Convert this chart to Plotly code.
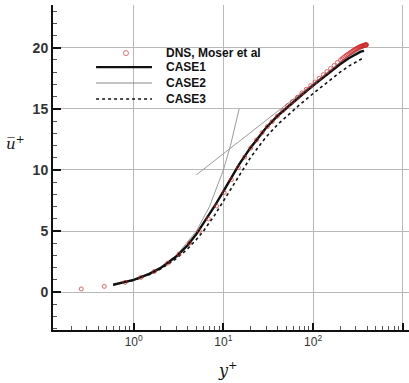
import plotly.graph_objects as go

# ---------------- data ----------------
dns_y = [0.26, 0.47, 0.8, 1.2, 1.7, 2.4, 3.2, 4.2, 5.4, 6.8, 8.4, 10.2, 12.3, 14.7,
         17.3, 20.2, 23.4, 27, 31, 35, 40, 46, 52, 59, 67, 75, 84, 94, 105, 117, 130,
         143, 157, 172, 187, 203, 211, 219, 227, 235, 243, 251, 259, 267, 275, 283,
         290, 298, 305, 313, 320, 327, 333, 340, 346, 352, 358, 363, 368, 372, 376,
         380, 383, 386, 388, 390, 392, 393]
dns_u = [0.26, 0.47, 0.8, 1.2, 1.69, 2.37, 3.12, 4.02, 5.0, 6.0, 7.05, 8.15, 9.2, 10.2,
         11.05, 11.8, 12.45, 13.05, 13.55, 13.95, 14.4, 14.85, 15.25, 15.6, 15.95, 16.3,
         16.6, 16.9, 17.2, 17.5, 17.8, 18.05, 18.3, 18.55, 18.8, 19.0, 19.1, 19.2,
         19.29, 19.38, 19.45, 19.52, 19.59, 19.66, 19.72, 19.78, 19.83, 19.88, 19.93,
         19.97, 20.01, 20.05, 20.08, 20.1, 20.12, 20.15, 20.17, 20.18, 20.19, 20.2,
         20.21, 20.22, 20.22, 20.23, 20.23, 20.24, 20.24, 20.24]

case_y = [0.59, 0.8, 1, 1.5, 2, 3, 4, 5, 6, 7, 8, 10, 12, 15, 20, 25, 30, 40, 50, 70,
          100, 150, 200, 250, 300, 340, 370]
case1_u = [0.6, 0.8, 1.0, 1.5, 1.98, 2.93, 3.85, 4.75, 5.6, 6.35, 7.05, 8.25, 9.25,
           10.45, 11.8, 12.75, 13.45, 14.4, 15.05, 15.95, 16.9, 17.95, 18.65, 19.15,
           19.5, 19.68, 19.75]
case2_u = [0.6, 0.8, 1.0, 1.5, 1.99, 2.95, 3.88, 4.8, 5.65, 6.42, 7.12, 8.32, 9.33,
           10.55, 11.9, 12.85, 13.55, 14.55, 15.2, 16.1, 17.05, 18.1, 18.8, 19.3,
           19.68, 19.88, 19.98]
case3_y = [0.59, 0.8, 1, 1.5, 2, 3, 4, 5, 6, 7, 8, 10, 12, 15, 20, 25, 30, 40, 50, 70,
           100, 150, 200, 250, 300, 350]
case3_u = [0.59, 0.79, 0.98, 1.45, 1.9, 2.75, 3.55, 4.3, 5.0, 5.7, 6.3, 7.45, 8.4,
           9.6, 11.0, 11.95, 12.7, 13.7, 14.35, 15.3, 16.25, 17.3, 18.0, 18.5, 18.85,
           19.1]

visc_y = [1, 2, 3, 5, 7, 10, 12, 15]
visc_u = [1, 2, 3, 5, 7, 10, 12, 15]
loglaw_y = [5, 300]
loglaw_u = [9.6, 19.8]

x_tickvals = [1, 10, 100, 1000]
x_ticktext = ["10<sup>0</sup>", "10<sup>1</sup>", "10<sup>2</sup>", "10<sup>3</sup>"]
x_minor = [m * d for d in (0.1, 1, 10, 100) for m in range(2, 10)]

legend_names = ["DNS, Moser et al", "CASE1", "CASE2", "CASE3"]

FONT = "Liberation Sans, Arial, sans-serif"
RED = "#d42a2a"

fig = go.Figure()

fig.add_trace(go.Scatter(x=visc_y, y=visc_u, mode="lines",
                         line=dict(color="#9a9a9a", width=1), showlegend=False))
fig.add_trace(go.Scatter(x=loglaw_y, y=loglaw_u, mode="lines",
                         line=dict(color="#9a9a9a", width=1), showlegend=False))
fig.add_trace(go.Scatter(x=case_y, y=case2_u, mode="lines",
                         line=dict(color="#8a8a8a", width=1), showlegend=False))
fig.add_trace(go.Scatter(x=case3_y, y=case3_u, mode="lines",
                         line=dict(color="#111111", width=1.6, dash="dot"),
                         showlegend=False))
fig.add_trace(go.Scatter(x=case_y, y=case1_u, mode="lines",
                         line=dict(color="#111111", width=2.4), showlegend=False))
fig.add_trace(go.Scatter(x=dns_y, y=dns_u, mode="markers",
                         marker=dict(symbol="circle-open", size=4, color=RED,
                                     opacity=0.7,
                                     line=dict(width=1, color=RED)),
                         showlegend=False))

# ---------------- manual legend ----------------
row_y = [0.852, 0.809, 0.760, 0.711]
lx0, lx1, ltext = 0.121, 0.278, 0.312
fig.add_shape(type="circle", xref="paper", yref="paper",
              xsizemode="pixel", ysizemode="pixel",
              xanchor=0.205, yanchor=row_y[0], x0=-2.5, x1=2.5, y0=-2.5, y1=2.5,
              line=dict(color="#e07070", width=1))
styles = [None,
          dict(color="#111111", width=2.4),
          dict(color="#8a8a8a", width=1),
          dict(color="#111111", width=1.6, dash="dot")]
for i, name in enumerate(legend_names):
    if styles[i] is not None:
        fig.add_shape(type="line", xref="paper", yref="paper",
                      x0=lx0, x1=lx1, y0=row_y[i], y1=row_y[i], line=styles[i])
    fig.add_annotation(xref="paper", yref="paper", x=ltext, y=row_y[i],
                       xanchor="left", yanchor="middle", showarrow=False,
                       text="<b>" + name + "</b>",
                       font=dict(family=FONT, size=12, color="#111111"))

# axis titles
fig.add_annotation(xref="paper", yref="paper", x=-0.107, y=0.575,
                   xanchor="center", yanchor="middle", showarrow=False,
                   text="<i>u\u0305</i><sup>+</sup>",
                   font=dict(family="DejaVu Serif, serif", size=15, color="#111111"))
fig.add_annotation(xref="paper", yref="paper", x=0.49, y=-0.12,
                   xanchor="center", yanchor="middle", showarrow=False,
                   text="<i>y</i><sup>+</sup>",
                   font=dict(family="DejaVu Serif, serif", size=16, color="#111111"))

fig.update_layout(
    width=409, height=383,
    margin=dict(l=53, r=0, t=5, b=53),
    paper_bgcolor="white", plot_bgcolor="white",
    showlegend=False,
    xaxis=dict(type="log", range=[-0.9, 3.07],
               tickmode="array", tickvals=x_tickvals, ticktext=x_ticktext,
               ticks="inside", ticklen=7, tickwidth=1.5, tickcolor="#111111",
               showline=True, linecolor="#111111", linewidth=2,
               showgrid=True, gridcolor="#b8b8b8", gridwidth=1.3,
               zeroline=False,
               tickfont=dict(family=FONT, size=12, color="#333333"),
               minor=dict(tickmode="array", tickvals=x_minor, ticks="inside",
                          ticklen=4, tickcolor="#555555", tickwidth=1,
                          showgrid=False)),
    yaxis=dict(range=[-3.1, 23.5], tickmode="linear", tick0=0, dtick=5,
               ticks="inside", ticklen=8, tickwidth=2, tickcolor="#111111",
               showline=True, linecolor="#111111", linewidth=2,
               showgrid=True, gridcolor="#b8b8b8", gridwidth=1.3,
               zeroline=False,
               tickfont=dict(family=FONT, size=14, color="#333333", weight="bold"),
               minor=dict(dtick=1, ticks="inside", ticklen=4, tickcolor="#555555",
                          tickwidth=1, showgrid=False)),
)

fig.write_html("out.html")
